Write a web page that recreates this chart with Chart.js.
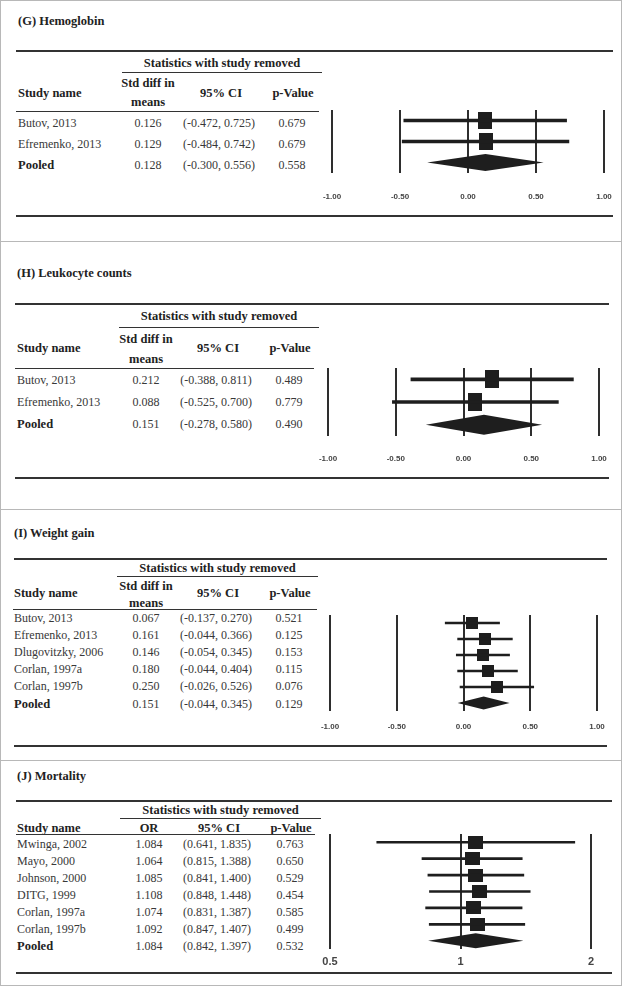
<!DOCTYPE html>
<html>
<head>
<meta charset="utf-8">
<script src="https://cdn.jsdelivr.net/npm/chart.js@4.4.0/dist/chart.umd.min.js"></script>
<style>
  html, body { margin: 0; padding: 0; background: #fff; overflow: hidden; }
  #page { position: relative; width: 622px; height: 986px; overflow: hidden; background: #fff;
    font-family: 'Liberation Serif', 'Times New Roman', serif; color: #383838; }
  .t { position: absolute; white-space: nowrap; line-height: 1; font-size: 12px; transform: translate(0, -50%); }
  .c { transform: translate(-50%, -50%); }
  .b { font-weight: bold; color: #222; font-size: 12.5px; }
  .rule { position: absolute; background: #333; }
  .frame { position: absolute; background: #b8b8b8; }
  canvas { position: absolute; }
</style>
</head>
<body>
<div id="page"></div>
<script>
// (G) Hemoglobin
const hbStudies = ['Butov, 2013', 'Efremenko, 2013', 'Pooled'];
const hbEffect = [0.126, 0.129, 0.128];
const hbLower = [-0.472, -0.484, -0.300];
const hbUpper = [0.725, 0.742, 0.556];
const hbP = [0.679, 0.679, 0.558];

// (H) Leukocyte counts
const wbcStudies = ['Butov, 2013', 'Efremenko, 2013', 'Pooled'];
const wbcEffect = [0.212, 0.088, 0.151];
const wbcLower = [-0.388, -0.525, -0.278];
const wbcUpper = [0.811, 0.700, 0.580];
const wbcP = [0.489, 0.779, 0.490];

// (I) Weight gain
const wtStudies = ['Butov, 2013', 'Efremenko, 2013', 'Dlugovitzky, 2006', 'Corlan, 1997a', 'Corlan, 1997b', 'Pooled'];
const wtEffect = [0.067, 0.161, 0.146, 0.180, 0.250, 0.151];
const wtLower = [-0.137, -0.044, -0.054, -0.044, -0.026, -0.044];
const wtUpper = [0.270, 0.366, 0.345, 0.404, 0.526, 0.345];
const wtP = [0.521, 0.125, 0.153, 0.115, 0.076, 0.129];

// (J) Mortality
const mortStudies = ['Mwinga, 2002', 'Mayo, 2000', 'Johnson, 2000', 'DITG, 1999', 'Corlan, 1997a', 'Corlan, 1997b', 'Pooled'];
const mortOR = [1.084, 1.064, 1.085, 1.108, 1.074, 1.092, 1.084];
const mortLower = [0.641, 0.815, 0.841, 0.848, 0.831, 0.847, 0.842];
const mortUpper = [1.835, 1.388, 1.400, 1.448, 1.387, 1.407, 1.397];
const mortP = [0.763, 0.650, 0.529, 0.454, 0.585, 0.499, 0.532];

const smdTicks = [-1, -0.5, 0, 0.5, 1];
const smdTickLabels = ['-1.00', '-0.50', '0.00', '0.50', '1.00'];
const orTicks = [0.5, 1, 2];
const orTickLabels = ['0.5', '1', '2'];

const markColor = '#1e1e1e';
const lineColor = '#2e2e2e';
const page = document.getElementById('page');

const panels = [
  { title: '(G) Hemoglobin', studies: hbStudies, effect: hbEffect, lower: hbLower, upper: hbUpper, p: hbP,
    effectHead: ['Std diff in', 'means'], ticks: smdTicks, tickLabels: smdTickLabels, log: false,
    left: 18, titleY: 21, topRule: [16, 613, 51], statY: 63, statRule: [122, 322, 72],
    headY: 93, head1Y: 83, head2Y: 102, headRule: [16, 319, 111], rowY: 123, rowStep: 21,
    cols: [148, 219, 292], bottomRule: [16, 613, 216],
    plotTop: 110, plotBottom: 173, plotLeft: 332, plotRight: 604, tickY: 197, tickFont: 8,
    box: [14, 17], diamond: 8.5, ci: 3 },
  { title: '(H) Leukocyte counts', studies: wbcStudies, effect: wbcEffect, lower: wbcLower, upper: wbcUpper, p: wbcP,
    effectHead: ['Std diff in', 'means'], ticks: smdTicks, tickLabels: smdTickLabels, log: false,
    left: 17, titleY: 273, topRule: [15, 609, 304], statY: 316, statRule: [119, 319, 327],
    headY: 348, head1Y: 339, head2Y: 359, headRule: [15, 314, 368], rowY: 380, rowStep: 22,
    cols: [146, 216, 289], bottomRule: [15, 609, 478],
    plotTop: 368, plotBottom: 436, plotLeft: 328, plotRight: 599, tickY: 459, tickFont: 8,
    box: [14, 18], diamond: 10, ci: 3 },
  { title: '(I) Weight gain', studies: wtStudies, effect: wtEffect, lower: wtLower, upper: wtUpper, p: wtP,
    effectHead: ['Std diff in', 'means'], ticks: smdTicks, tickLabels: smdTickLabels, log: false,
    left: 14, titleY: 533, topRule: [14, 607, 559], statY: 568, statRule: [117, 318, 576],
    headY: 593, head1Y: 586, head2Y: 603, headRule: [13, 317, 609], rowY: 618, rowStep: 17.1,
    cols: [146, 216, 289], bottomRule: [14, 607, 746],
    plotTop: 615, plotBottom: 711, plotLeft: 330, plotRight: 597, tickY: 727, tickFont: 8,
    box: [12, 12], diamond: 6.5, ci: 2 },
  { title: '(J) Mortality', studies: mortStudies, effect: mortOR, lower: mortLower, upper: mortUpper, p: mortP,
    effectHead: ['OR'], ticks: orTicks, tickLabels: orTickLabels, log: true,
    left: 17, titleY: 776, topRule: [16, 612, 801], statY: 810, statRule: [120, 321, 818],
    headY: 828, headRule: [16, 315, 834], rowY: 844, rowStep: 17,
    cols: [149, 217, 290], bottomRule: [16, 612, 973],
    plotTop: 834, plotBottom: 949, plotLeft: 330, plotRight: 591, tickY: 962, tickFont: 11,
    box: [15, 13], diamond: 7.5, ci: 2 }
];

function addText(str, x, y, cls) {
  const el = document.createElement('div');
  el.className = 't ' + (cls || '');
  el.style.left = x + 'px';
  el.style.top = y + 'px';
  el.textContent = str;
  page.appendChild(el);
  return el;
}

function addRule(r, h) {
  const el = document.createElement('div');
  el.className = 'rule';
  el.style.left = r[0] + 'px';
  el.style.width = (r[1] - r[0]) + 'px';
  el.style.top = (r[2] - h / 2) + 'px';
  el.style.height = h + 'px';
  page.appendChild(el);
}

function addFrame(x, y, w, h) {
  const el = document.createElement('div');
  el.className = 'frame';
  el.style.left = x + 'px';
  el.style.top = y + 'px';
  el.style.width = w + 'px';
  el.style.height = h + 'px';
  page.appendChild(el);
}

function boxImage(w, h) {
  const c = document.createElement('canvas');
  c.width = w;
  c.height = h;
  const ctx = c.getContext('2d');
  ctx.fillStyle = markColor;
  ctx.fillRect(0, 0, w, h);
  return c;
}

function drawTable(p) {
  addText(p.title, p.left, p.titleY, 'b');
  addRule(p.topRule, 2);
  addText('Statistics with study removed', (p.statRule[0] + p.statRule[1]) / 2, p.statY, 'b c');
  addRule(p.statRule, 1);
  addText('Study name', p.left, p.headY, 'b');
  if (p.effectHead.length > 1) {
    addText(p.effectHead[0], p.cols[0], p.head1Y, 'b c');
    addText(p.effectHead[1], p.cols[0], p.head2Y, 'b c');
  } else {
    addText(p.effectHead[0], p.cols[0], p.headY, 'b c');
  }
  addText('95% CI', p.cols[1] + 2, p.headY, 'b c');
  addText('p-Value', p.cols[2] + 1, p.headY, 'b c');
  addRule(p.headRule, 1);
  const last = p.studies.length - 1;
  p.studies.forEach((s, i) => {
    const y = p.rowY + i * p.rowStep;
    addText(s, p.left, y, i === last ? 'b' : '');
    addText(p.effect[i].toFixed(3), p.cols[0], y, 'c');
    addText('(' + p.lower[i].toFixed(3) + ', ' + p.upper[i].toFixed(3) + ')', p.cols[1], y, 'c');
    addText(p.p[i].toFixed(3), p.cols[2], y, 'c');
  });
  addRule(p.bottomRule, 2);
}

function drawForest(p) {
  const padTop = 8;
  const padSide = 40;
  const tickPad = Math.round(p.tickY - p.plotBottom - p.tickFont * 0.6);
  const axisH = tickPad + Math.ceil(p.tickFont * 1.2) + 2;
  const canvas = document.createElement('canvas');
  canvas.width = p.plotRight - p.plotLeft + 2 * padSide;
  canvas.height = padTop + (p.plotBottom - p.plotTop) + axisH;
  canvas.style.left = (p.plotLeft - padSide) + 'px';
  canvas.style.top = (p.plotTop - padTop) + 'px';
  page.appendChild(canvas);

  const last = p.studies.length - 1; // pooled row
  const ciData = p.studies.map((s, i) => i === last ? null : [p.lower[i], p.upper[i]]);
  const pointData = p.studies.slice(0, last).map((s, i) => ({ x: p.effect[i], y: s }));

  const forestMarks = {
    id: 'forestMarks',
    // vertical reference lines at every tick value
    beforeDatasetsDraw(chart) {
      const xs = chart.scales.x;
      const area = chart.chartArea;
      const ctx = chart.ctx;
      ctx.save();
      ctx.fillStyle = lineColor;
      p.ticks.forEach(v => {
        const px = Math.round(xs.getPixelForValue(v));
        ctx.fillRect(px - 1, area.top, 2, area.bottom - area.top);
      });
      ctx.restore();
    },
    // pooled estimate as a diamond spanning its CI
    afterDatasetsDraw(chart) {
      const xs = chart.scales.x;
      const yc = chart.scales.y.getPixelForValue(last);
      const ctx = chart.ctx;
      ctx.save();
      ctx.fillStyle = markColor;
      ctx.beginPath();
      ctx.moveTo(xs.getPixelForValue(p.lower[last]), yc);
      ctx.lineTo(xs.getPixelForValue(p.effect[last]), yc - p.diamond);
      ctx.lineTo(xs.getPixelForValue(p.upper[last]), yc);
      ctx.lineTo(xs.getPixelForValue(p.effect[last]), yc + p.diamond);
      ctx.closePath();
      ctx.fill();
      ctx.restore();
    }
  };

  new Chart(canvas, {
    type: 'bar',
    data: {
      labels: p.studies,
      datasets: [
        { type: 'bar', data: ciData, backgroundColor: markColor, barThickness: p.ci, borderWidth: 0, grouped: false },
        { type: 'scatter', data: pointData, pointStyle: boxImage(p.box[0], p.box[1]), pointRadius: 4 }
      ]
    },
    options: {
      indexAxis: 'y',
      responsive: false,
      animation: false,
      events: [],
      layout: { padding: { left: padSide, right: padSide, top: padTop, bottom: 0 } },
      plugins: { legend: { display: false }, tooltip: { enabled: false } },
      scales: {
        x: {
          type: p.log ? 'logarithmic' : 'linear',
          min: p.ticks[0],
          max: p.ticks[p.ticks.length - 1],
          afterBuildTicks: (scale) => { scale.ticks = p.ticks.map(v => ({ value: v })); },
          afterFit: (scale) => { scale.height = axisH; },
          grid: { display: false, drawTicks: false },
          border: { display: false },
          ticks: {
            autoSkip: false,
            maxRotation: 0,
            padding: tickPad,
            color: '#444',
            font: { family: 'Arial', size: p.tickFont, weight: 'bold' },
            callback: (v, i) => p.tickLabels[i]
          }
        },
        y: { type: 'category', display: false, offset: true }
      }
    },
    plugins: [forestMarks]
  });
}

// outer frame and panel separators
addFrame(0, 0, 622, 1);
addFrame(0, 985, 622, 1);
addFrame(0, 0, 1, 986);
addFrame(621, 0, 1, 986);
addFrame(0, 241, 622, 1);
addFrame(0, 509, 622, 1);
addFrame(0, 760, 622, 1);

panels.forEach(p => {
  drawTable(p);
  drawForest(p);
});
</script>
</body>
</html>
